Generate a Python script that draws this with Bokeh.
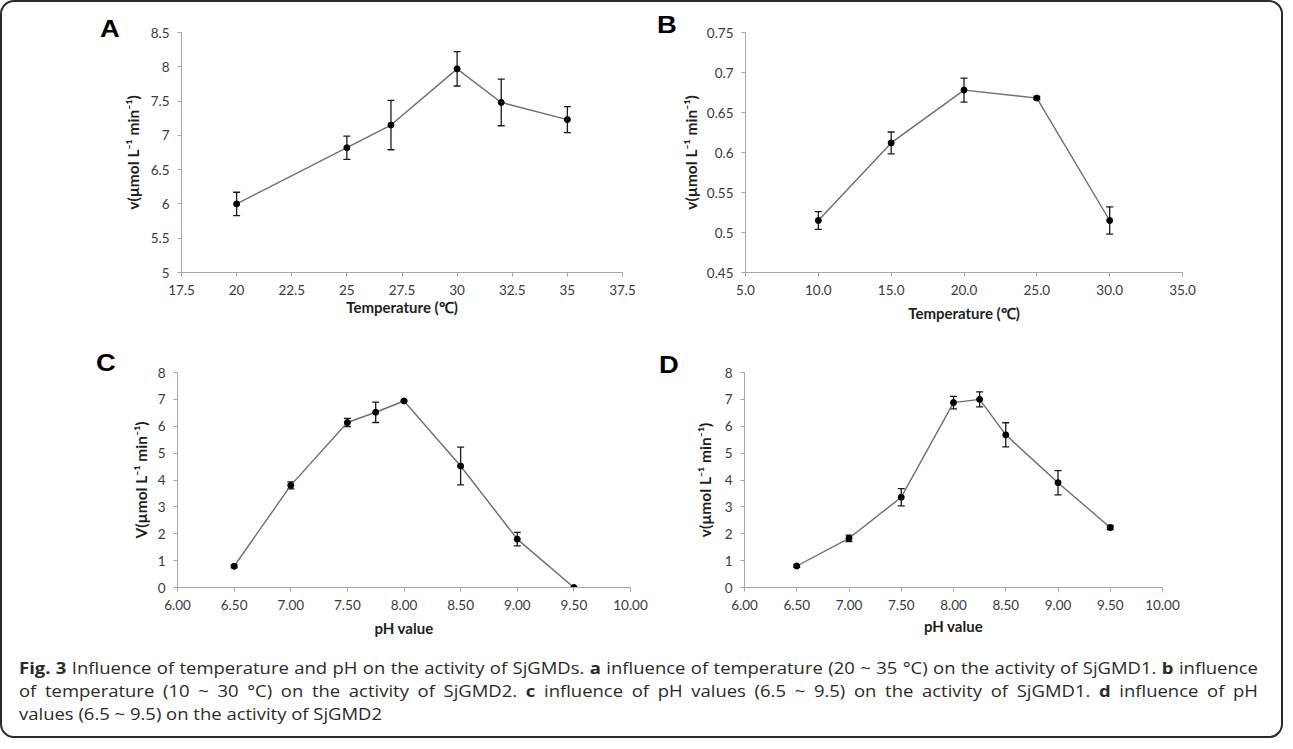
from bokeh.plotting import figure
from bokeh.models import Range1d, FixedTicker, ColumnDataSource, Whisker, TeeHead, Div
from bokeh.layouts import row, column
from bokeh.embed import file_html
from bokeh.resources import INLINE

# ---------------- data ----------------
A_temp = [20, 25, 27, 30, 32, 35]
A_v = [6.00, 6.82, 7.15, 7.97, 7.48, 7.23]
A_err = [0.17, 0.17, 0.36, 0.25, 0.34, 0.19]

B_temp = [10, 15, 20, 25, 30]
B_v = [0.515, 0.612, 0.678, 0.668, 0.515]
B_err = [0.011, 0.0136, 0.015, 0.002, 0.017]

C_ph = [6.5, 7.0, 7.5, 7.75, 8.0, 8.5, 9.0, 9.5]
C_v = [0.79, 3.80, 6.14, 6.52, 6.94, 4.52, 1.80, 0.0]
C_err = [0.05, 0.13, 0.15, 0.38, 0.03, 0.70, 0.25, 0.0]

D_ph = [6.5, 7.0, 7.5, 8.0, 8.25, 8.5, 9.0, 9.5]
D_v = [0.80, 1.83, 3.36, 6.88, 7.00, 5.68, 3.90, 2.23]
D_err = [0.05, 0.12, 0.32, 0.23, 0.28, 0.45, 0.45, 0.08]

A_xticks = [17.5, 20, 22.5, 25, 27.5, 30, 32.5, 35, 37.5]
A_xlabels = ["17.5", "20", "22.5", "25", "27.5", "30", "32.5", "35", "37.5"]
A_yticks = [5, 5.5, 6, 6.5, 7, 7.5, 8, 8.5]
A_ylabels = ["5", "5.5", "6", "6.5", "7", "7.5", "8", "8.5"]

B_xticks = [5, 10, 15, 20, 25, 30, 35]
B_xlabels = ["5.0", "10.0", "15.0", "20.0", "25.0", "30.0", "35.0"]
B_yticks = [0.45, 0.5, 0.55, 0.6, 0.65, 0.7, 0.75]
B_ylabels = ["0.45", "0.5", "0.55", "0.6", "0.65", "0.7", "0.75"]

pH_xticks = [6.0, 6.5, 7.0, 7.5, 8.0, 8.5, 9.0, 9.5, 10.0]
pH_xlabels = ["6.00", "6.50", "7.00", "7.50", "8.00", "8.50", "9.00", "9.50", "10.00"]
pH_yticks = [0, 1, 2, 3, 4, 5, 6, 7, 8]
pH_ylabels = ["0", "1", "2", "3", "4", "5", "6", "7", "8"]

PANEL_LETTERS = ["A", "B", "C", "D"]
TEMP_LABEL = "Temperature (\u2103)"
PH_LABEL = "pH value"
YLAB_LOWER = "v(\u00b5mol L\u207b\u00b9 min\u207b\u00b9)"
YLAB_UPPER = "V(\u00b5mol L\u207b\u00b9 min\u207b\u00b9)"

CAPTION_LINES = [
    "<b>Fig. 3</b> Influence of temperature and pH on the activity of SjGMDs. "
    "<b>a</b> influence of temperature (20 ~ 35 \u00b0C) on the activity of SjGMD1. "
    "<b>b</b> influence",
    "of temperature (10 ~ 30 \u00b0C) on the activity of SjGMD2. "
    "<b>c</b> influence of pH values (6.5 ~ 9.5) on the activity of SjGMD1. "
    "<b>d</b> influence of pH",
    "values (6.5 ~ 9.5) on the activity of SjGMD2",
]

# ---------------- styling ----------------
CHART_FONT = "Lato"
AXIS_COLOR = "#a6a6a6"
TICK_TEXT = "#3a3a3a"
TEXT_STRETCH = 1.14   # the reference's lettering is horizontally stretched


def panel(x, v, err, xticks, xlabels, yticks, ylabels, xlab, ylab,
          W, H, bl, br, bt, bb, ylab_standoff, xlab_standoff):
    p = figure(width=W, height=H,
               x_range=Range1d(xticks[0], xticks[-1]),
               y_range=Range1d(yticks[0], yticks[-1]),
               output_backend="svg", toolbar_location=None,
               min_border_left=bl, min_border_right=br,
               min_border_top=bt, min_border_bottom=bb)
    p.background_fill_color = None
    p.border_fill_color = None
    p.outline_line_color = None
    p.grid.visible = False

    for ax, ticks, labels in ((p.xaxis[0], xticks, xlabels), (p.yaxis[0], yticks, ylabels)):
        ax.ticker = FixedTicker(ticks=ticks)
        ax.major_label_overrides = {t: l for t, l in zip(ticks, labels)}
        ax.minor_tick_line_color = None
        ax.major_tick_in = 0
        ax.major_tick_out = 4
        ax.axis_line_color = AXIS_COLOR
        ax.major_tick_line_color = AXIS_COLOR
        ax.major_label_text_font = CHART_FONT
        ax.major_label_text_font_size = "13.5px"
        ax.major_label_text_color = TICK_TEXT
        ax.major_label_standoff = 8
        ax.axis_label_text_font = CHART_FONT
        ax.axis_label_text_font_style = "bold"
        ax.axis_label_text_color = "#1e1e1e"
    p.xaxis.axis_label_text_font_size = "15px"
    p.yaxis.axis_label_text_font_size = "15.5px"
    p.xaxis.axis_label = xlab
    p.yaxis.axis_label = ylab
    p.yaxis.axis_label_standoff = ylab_standoff
    p.xaxis.axis_label_standoff = xlab_standoff

    upper = [a + e for a, e in zip(v, err)]
    lower = [a - e for a, e in zip(v, err)]
    src = ColumnDataSource(dict(x=x, v=v, upper=upper, lower=lower))
    p.line("x", "v", source=src, line_color="#6e6e6e", line_width=1.4)
    wh = Whisker(source=src, base="x", upper="upper", lower="lower",
                 line_color="#1a1a1a", line_width=1.3,
                 upper_head=TeeHead(size=7, line_color="#1a1a1a", line_width=1.3),
                 lower_head=TeeHead(size=7, line_color="#1a1a1a", line_width=1.3))
    p.add_layout(wh)
    p.scatter("x", "v", source=src, size=6, fill_color="black", line_color="black")
    return p


def letter_div(letter, W, H, pad_left, pad_top):
    html = (f"<div style=\"font-family:'Liberation Sans';font-weight:bold;font-size:24px;"
            f"line-height:24px;color:#000;padding-left:{pad_left}px;padding-top:{pad_top}px;\">"
            f"<span style=\"display:inline-block;transform:scaleX({TEXT_STRETCH});"
            f"transform-origin:0 0;\">{letter}</span></div>")
    return Div(text=html, width=W, height=H, margin=0)


pA = panel(A_temp, A_v, A_err, A_xticks, A_xlabels, A_yticks, A_ylabels,
           TEMP_LABEL, YLAB_LOWER,
           W=532, H=330, bl=56, br=30, bt=28, bb=60,
           ylab_standoff=6, xlab_standoff=0)
pB = panel(B_temp, B_v, B_err, B_xticks, B_xlabels, B_yticks, B_ylabels,
           TEMP_LABEL, YLAB_LOWER,
           W=603, H=330, bl=65, br=99, bt=30, bb=58,
           ylab_standoff=4, xlab_standoff=6)
pC = panel(C_ph, C_v, C_err, pH_xticks, pH_xlabels, pH_yticks, pH_ylabels,
           PH_LABEL, YLAB_UPPER,
           W=534, H=320, bl=59, br=22, bt=16, bb=60,
           ylab_standoff=5, xlab_standoff=6)
pD = panel(D_ph, D_v, D_err, pH_xticks, pH_xlabels, pH_yticks, pH_ylabels,
           PH_LABEL, YLAB_LOWER,
           W=599, H=320, bl=62, br=119, bt=40, bb=65,
           ylab_standoff=8, xlab_standoff=4)

dA = letter_div(PANEL_LETTERS[0], 118, 330, 98, 15)
dB = letter_div(PANEL_LETTERS[1], 26, 330, 5, 11)
dC = letter_div(PANEL_LETTERS[2], 116, 320, 94, 19)
dD = letter_div(PANEL_LETTERS[3], 30, 320, 7, 21)

jl = "text-align:justify;text-align-last:justify;"
inner_w = 1239 / TEXT_STRETCH
caption_html = (
    "<div style=\"padding:5px 0 0 17px;\">"
    f"<div style=\"width:{inner_w:.1f}px;transform:scaleX({TEXT_STRETCH});transform-origin:0 0;"
    "font-family:'Open Sans';font-size:16.2px;line-height:23px;color:#2a2a2a;\">"
    f"<div style=\"{jl}\">{CAPTION_LINES[0]}</div>"
    f"<div style=\"{jl}\">{CAPTION_LINES[1]}</div>"
    f"<div>{CAPTION_LINES[2]}</div>"
    "</div></div>"
)
cap = Div(text=caption_html, width=1279, height=84, margin=0)

layout = column(row(dA, pA, dB, pB), row(dC, pC, dD, pD), cap,
                styles={"border": "2px solid #2b2b2b", "border-radius": "14px"})

open("out.html", "w").write(file_html(layout, INLINE))
